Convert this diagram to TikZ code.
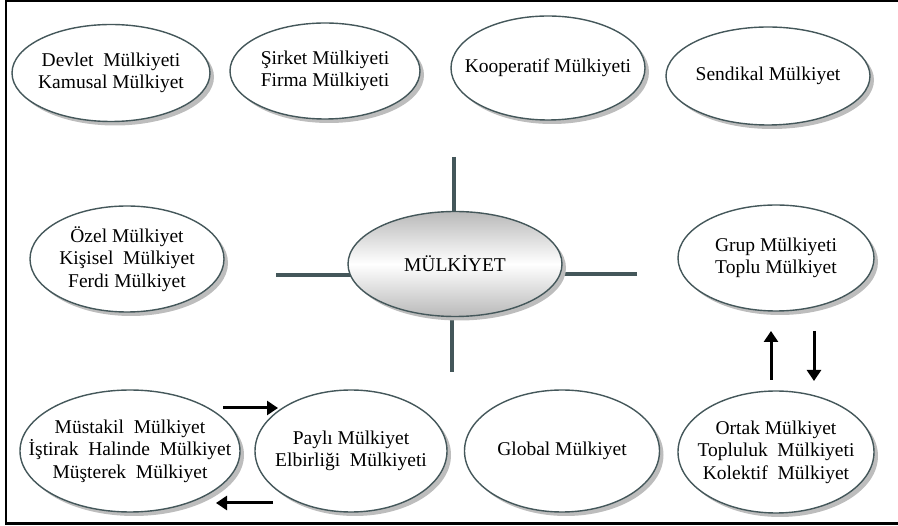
\documentclass[tikz,border=0pt]{standalone}
\usepackage{fontspec}
\setmainfont{Liberation Serif}
\usetikzlibrary{shapes.geometric,shadows,arrows.meta,backgrounds}
\definecolor{edge}{HTML}{44575A}
\definecolor{shad}{HTML}{BDBDBD}
\tikzset{
  oval/.style={ellipse, draw=edge, line width=1.4pt, fill=white, inner sep=0pt,
    drop shadow={shadow xshift=4pt, shadow yshift=-4pt, fill=shad, opacity=1}},
  txt/.style={align=center, font=\fontsize{19.5}{22.5}\selectfont, inner sep=0pt},
  spoke/.style={draw=edge, line width=4.5pt},
  flow/.style={draw=black, line width=3pt, -{Triangle[length=11pt,width=14pt]}},
  frame/.style={draw=black, line width=2.5pt}
}
\begin{document}
\begin{tikzpicture}[x=1pt,y=-1pt]
\useasboundingbox (0,0) rectangle (898,526);
\draw[frame] (898,1) -- (6,1) -- (6,523.5) -- (898,523.5);
% centre
\node[oval, minimum width=214pt, minimum height=105pt, top color=gray!55, bottom color=gray!55, middle color=white] (c) at (455,264) {};
\node[txt] (ct) at (c) {MÜLKİYET};
\coordinate (tS) at (454,157);
\coordinate (bS) at (452,372);
\coordinate (lS) at (276,275);
\coordinate (rS) at (637,274);
\begin{scope}[on background layer]
\draw[spoke] (tS) -- (tS |- c);
\draw[spoke] (bS) -- (bS |- c);
\draw[spoke] (lS) -- (c |- lS);
\draw[spoke] (rS) -- (c |- rS);
\end{scope}
% top row
\node[oval, minimum width=198pt, minimum height=97pt] (a1) at (111,73) {};
\node[txt] at (a1) {Devlet\ \ Mülkiyeti\\Kamusal Mülkiyet};
\node[oval, minimum width=190pt, minimum height=96pt] (a2) at (325,71) {};
\node[txt] at (a2) {Şirket Mülkiyeti\\Firma Mülkiyeti};
\node[oval, minimum width=194pt, minimum height=104pt] (a3) at (548,68) {};
\node[txt] at (a3) {Kooperatif Mülkiyeti};
\node[oval, minimum width=204pt, minimum height=98pt] (a4) at (768,76) {};
\node[txt] at (a4) {Sendikal Mülkiyet};
% middle row
\node[oval, minimum width=194pt, minimum height=106pt] (b1) at (127,259) {};
\node[txt] at (b1) {Özel Mülkiyet\\Kişisel\ \ Mülkiyet\\Ferdi Mülkiyet};
\node[oval, minimum width=196pt, minimum height=106pt] (b2) at (776,258) {};
\node[txt] at (b2) {Grup Mülkiyeti\\Toplu Mülkiyet};
% bottom row
\node[oval, minimum width=220pt, minimum height=122pt] (d1) at (130,451) {};
\node[txt] at (d1) {Müstakil\ \ Mülkiyet\\İştirak\ \ Halinde\ \ Mülkiyet\\Müşterek\ \ Mülkiyet};
\node[oval, minimum width=192pt, minimum height=122pt] (d2) at (351,451) {};
\node[txt] at (d2) {Paylı Mülkiyet\\Elbirliği\ \ Mülkiyeti};
\node[oval, minimum width=195pt, minimum height=122pt] (d3) at (562,451) {};
\node[txt] at (d3) {Global Mülkiyet};
\node[oval, minimum width=196pt, minimum height=122pt] (d4) at (776,452) {};
\node[txt] at (d4) {Ortak Mülkiyet\\Topluluk\ \ Mülkiyeti\\Kolektif\ \ Mülkiyet};
% arrows
\coordinate (u1) at (771,380); \coordinate (u2) at (771,331);
\coordinate (v1) at (814,331); \coordinate (v2) at (814,381);
\coordinate (r1) at (223,408); \coordinate (r2) at (278,408);
\coordinate (l1) at (273,503); \coordinate (l2) at (216,503);
\draw[flow] (u1) -- (u2);
\draw[flow] (v1) -- (v2);
\draw[flow] (r1) -- (r2);
\draw[flow] (l1) -- (l2);
\end{tikzpicture}
\end{document}
